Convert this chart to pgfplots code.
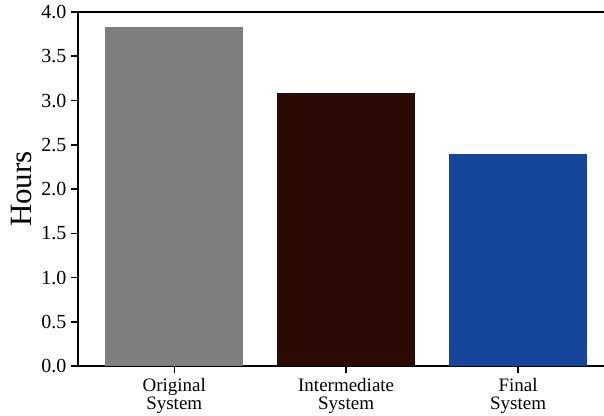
\documentclass[border=0pt]{standalone}
\usepackage{pgfplots}
\pgfplotsset{compat=1.18}
\usepackage{fontspec}
\setmainfont{Liberation Serif}
\definecolor{cgray}{RGB}{127,127,127}
\definecolor{cbrown}{RGB}{42,10,3}
\definecolor{cblue}{RGB}{22,70,155}
\begin{document}
\begin{tikzpicture}
\begin{axis}[
  scale only axis,
  width=526pt, height=354pt,
  xmin=-0.56, xmax=2.5,
  ymin=0, ymax=4.0,
  clip=false,
  axis line style={line width=1.5pt, black},
  separate axis lines,
  axis x line*=bottom,
  axis y line*=left,
  xtick={0,1,2},
  xticklabels={Original\\System, Intermediate\\System, Final\\System},
  xticklabel style={align=center, font=\fontsize{19}{18}\selectfont, yshift=-2pt},
  ytick={0,0.5,...,4.0},
  yticklabel style={font=\fontsize{20}{20}\selectfont, xshift=-1pt, /pgf/number format/fixed, /pgf/number format/zerofill, /pgf/number format/precision=1},
  /pgf/number format/assume math mode=true,
  tick align=outside,
  major tick length=7pt,
  tick style={line width=1.5pt, black},
  ylabel={Hours},
  ylabel style={font=\fontsize{31}{31}\selectfont, yshift=3pt},
  ybar, bar width=138pt,
]
\addplot[fill=cgray, draw=none, bar shift=0pt] coordinates {(0,3.83)};
\addplot[fill=cbrown, draw=none, bar shift=0pt] coordinates {(1,3.09)};
\addplot[fill=cblue, draw=none, bar shift=0pt] coordinates {(2,2.40)};
\draw[line width=1.5pt] (rel axis cs:0,1) -- (rel axis cs:1,1);
\end{axis}
\pgfresetboundingbox
\path[use as bounding box] ([xshift=-78pt,yshift=-49pt]current axis.south west) rectangle ([yshift=12pt]current axis.north east);
\end{tikzpicture}
\end{document}
